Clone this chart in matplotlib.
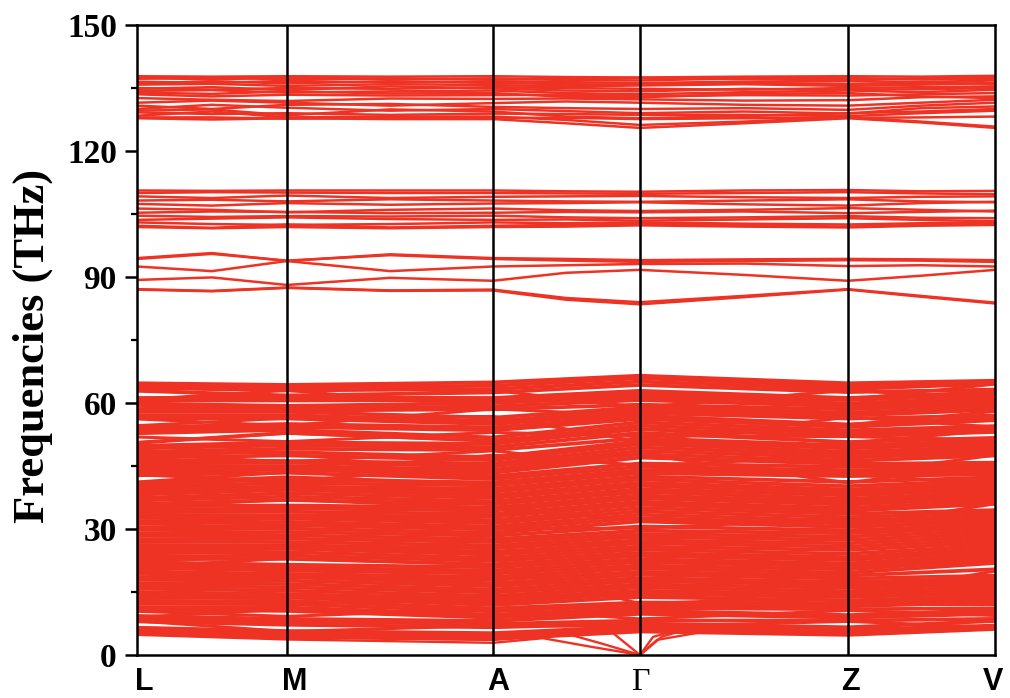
import matplotlib
matplotlib.use('Agg')
import matplotlib.pyplot as plt
import matplotlib.transforms as mtransforms
from matplotlib.ticker import MultipleLocator

# ---------------- data ----------------
kpath_labels = ['L', 'M', 'A', 'Γ', 'Z', 'V']
kpath_pos = [0.0, 1.50, 3.56, 5.03, 7.11, 8.58]
# high-symmetry points plus segment midpoints (for optical bands)
k_nodes = [0.0, 0.75, 1.50, 2.53, 3.56, 4.29, 5.03, 6.07, 7.11, 7.84, 8.58]

# highest optical group (~125-138 THz), values at k_nodes
top_bands = [
    [137.8, 137.7, 137.8, 137.7, 137.8, 137.6, 137.5, 137.7, 137.8, 137.7, 137.9],
    [137.5, 137.0, 137.6, 137.0, 137.3, 136.9, 136.8, 137.3, 137.4, 137.0, 137.2],
    [137.2, 137.4, 137.1, 137.3, 137.0, 137.2, 137.4, 137.1, 137.0, 137.3, 137.5],
    [136.5, 136.2, 136.7, 136.3, 136.6, 136.4, 136.2, 136.5, 136.7, 136.4, 136.8],
    [136.0, 136.6, 136.1, 136.6, 136.2, 135.9, 135.8, 136.2, 136.0, 136.2, 136.0],
    [135.8, 136.0, 135.5, 135.9, 135.7, 135.4, 135.6, 135.9, 135.5, 135.8, 136.2],
    [135.0, 134.6, 135.0, 134.8, 135.2, 135.0, 134.8, 134.6, 135.0, 135.2, 135.4],
    [134.8, 135.2, 134.5, 135.4, 134.9, 134.4, 134.2, 134.8, 134.6, 134.7, 135.0],
    [134.3, 134.5, 133.9, 134.2, 134.4, 133.8, 133.5, 134.0, 134.4, 134.0, 134.6],
    [133.9, 133.6, 134.2, 133.7, 133.8, 132.9, 132.8, 133.6, 133.8, 133.0, 132.6],
    [133.5, 133.0, 133.4, 133.2, 133.3, 133.4, 133.0, 133.3, 133.2, 133.5, 133.8],
    [132.6, 132.2, 131.9, 132.5, 132.4, 132.5, 132.3, 132.0, 132.1, 132.8, 133.0],
    [131.5, 132.0, 131.5, 130.8, 131.4, 131.8, 131.5, 131.0, 130.8, 131.5, 132.2],
    [130.8, 130.0, 131.0, 131.2, 130.5, 130.2, 130.0, 130.2, 129.8, 130.8, 131.5],
    [130.0, 131.0, 130.3, 129.6, 130.0, 129.5, 129.0, 129.4, 128.9, 130.2, 130.6],
    [129.6, 129.9, 128.5, 129.9, 129.4, 128.2, 127.8, 128.3, 129.0, 129.4, 130.0],
    [129.2, 128.8, 129.0, 128.6, 128.9, 128.8, 128.6, 128.6, 128.3, 129.0, 129.6],
    [128.4, 129.4, 128.0, 128.2, 128.2, 127.4, 126.2, 127.0, 128.0, 127.0, 125.8],
    [128.0, 128.0, 127.7, 128.0, 127.9, 127.9, 127.6, 127.8, 127.9, 128.0, 128.2],
    [127.8, 127.5, 127.8, 127.6, 127.6, 126.6, 125.5, 126.6, 127.8, 126.8, 125.5],
]

# optical group ~102-111 THz
mid_bands = [
    [110.6, 110.5, 110.6, 110.6, 110.6, 110.4, 110.3, 110.6, 110.7, 110.4, 110.5],
    [110.0, 110.2, 110.1, 110.0, 110.0, 109.9, 109.8, 110.0, 110.2, 109.9, 109.7],
    [109.2, 108.8, 109.4, 108.8, 109.1, 109.2, 109.3, 109.0, 108.8, 109.1, 109.2],
    [108.2, 108.4, 108.0, 108.5, 108.2, 108.0, 107.9, 108.2, 108.5, 108.0, 107.8],
    [107.4, 107.0, 107.6, 107.2, 107.5, 107.6, 107.8, 107.3, 107.0, 107.6, 107.9],
    [106.3, 106.0, 105.4, 106.0, 106.3, 105.9, 105.7, 106.0, 106.4, 106.0, 105.6],
    [105.3, 105.6, 105.5, 105.2, 105.3, 105.5, 105.4, 105.6, 105.2, 105.5, 105.8],
    [104.6, 104.3, 104.5, 104.4, 104.6, 104.2, 104.0, 104.2, 104.5, 104.1, 104.0],
    [103.6, 103.9, 104.2, 103.8, 103.6, 103.7, 103.4, 103.7, 104.0, 103.6, 103.3],
    [103.0, 102.6, 102.4, 102.6, 103.0, 102.8, 103.0, 102.7, 102.5, 102.8, 103.1],
    [102.2, 101.7, 102.5, 101.8, 102.2, 102.4, 102.6, 102.3, 102.0, 102.4, 102.7],
    [101.9, 101.6, 101.9, 101.6, 101.9, 102.0, 102.3, 102.0, 101.8, 102.2, 102.4],
]

# optical group ~83-96 THz
low_opt_bands = [
    [94.5, 95.7, 93.8, 95.4, 94.5, 94.3, 94.0, 94.2, 94.3, 94.2, 94.0],
    [94.3, 95.5, 93.9, 95.2, 94.3, 93.9, 93.6, 93.8, 94.0, 93.9, 93.6],
    [92.5, 91.4, 93.8, 91.4, 92.5, 92.8, 93.1, 93.2, 92.6, 92.8, 92.5],
    [89.3, 89.9, 88.1, 89.8, 89.1, 91.0, 91.7, 90.5, 89.1, 90.3, 91.7],
    [87.1, 86.7, 87.5, 86.8, 87.0, 85.0, 84.0, 85.5, 87.1, 85.5, 83.9],
    [87.0, 86.6, 87.4, 86.7, 86.8, 84.6, 83.5, 85.2, 87.0, 85.3, 83.7],
]

# dense low-frequency manifold, values at the six high-symmetry points
dense_L = [5.2, 5.9, 6.5, 8.0, 8.6, 9.3, 10.8, 11.4, 12.2, 12.8, 13.6, 14.4, 15.0, 15.8,
           16.5, 17.1, 17.9, 18.5, 19.3, 19.9, 20.7, 21.3, 22.1, 22.8, 23.4, 24.2, 24.8,
           25.6, 26.2, 27.0, 27.6, 28.4, 29.0, 29.8, 30.4, 31.2, 31.8, 32.6, 33.2, 34.0,
           34.6, 35.4, 36.0, 36.8, 37.4, 38.2, 38.8, 39.6, 40.2, 40.9, 42.8, 43.4, 44.2,
           44.9, 45.6, 46.4, 47.0, 47.8, 48.4, 49.2, 49.8, 50.5, 52.8, 53.5, 54.2, 56.4,
           57.1, 57.9, 58.5, 59.3, 59.9, 60.6, 61.2, 62.9, 63.6, 64.2, 64.7]
dense_M = [4.5, 5.1, 5.7, 7.2, 7.9, 8.6, 10.5, 11.3, 12.1, 12.9, 13.7, 14.1, 14.5, 15.3,
           16.1, 16.9, 17.7, 18.5, 18.9, 19.3, 20.1, 20.8, 21.5, 22.9, 23.7, 24.5, 25.3,
           25.7, 26.1, 26.9, 27.7, 28.5, 29.3, 30.1, 30.9, 31.7, 32.5, 32.9, 33.3, 34.1,
           34.9, 35.6, 36.9, 37.7, 38.5, 39.3, 39.7, 40.1, 40.9, 41.7, 43.4, 44.2, 44.6,
           45.0, 45.8, 46.2, 47.5, 48.3, 49.1, 49.9, 50.6, 52.9, 53.6, 54.3, 55.0, 56.3,
           57.1, 57.9, 58.2, 58.6, 59.3, 60.6, 61.3, 61.8, 63.0, 63.7, 64.3]
dense_A = [3.8, 4.5, 5.2, 6.6, 7.4, 8.1, 8.9, 9.6, 10.4, 11.1, 11.9, 12.6, 13.4, 14.1,
           14.9, 15.6, 16.4, 17.1, 17.9, 18.6, 19.4, 20.1, 20.9, 21.6, 22.4, 23.1, 23.9,
           24.6, 25.4, 26.1, 26.9, 27.6, 28.4, 29.1, 29.9, 30.6, 31.4, 32.1, 32.9, 33.6,
           34.4, 35.1, 35.9, 36.6, 37.4, 38.1, 38.9, 39.6, 40.4, 41.1, 41.9, 42.6, 43.4,
           44.1, 44.9, 45.6, 46.4, 47.1, 48.8, 49.5, 50.3, 51.0, 51.8, 53.5, 54.2, 55.0,
           55.7, 56.5, 58.5, 59.2, 60.0, 60.7, 61.2, 62.5, 63.3, 64.1, 64.9]
dense_G = [5.6, 6.2, 6.8, 7.5, 8.2, 9.8, 10.5, 11.2, 11.9, 12.5, 13.8, 14.6, 15.3, 16.1,
           16.8, 17.6, 18.3, 19.1, 19.8, 20.6, 21.3, 22.1, 22.8, 23.6, 24.3, 25.1, 25.8,
           26.6, 27.3, 28.1, 28.8, 29.6, 30.6, 31.8, 32.6, 33.4, 34.2, 35.0, 35.8, 36.5,
           37.3, 38.0, 38.8, 39.5, 40.3, 41.0, 41.8, 42.5, 43.3, 44.0, 44.8, 45.6, 47.0,
           47.8, 48.6, 49.4, 50.2, 50.9, 51.6, 52.9, 53.8, 54.6, 55.4, 56.2, 56.9, 57.6,
           58.3, 59.0, 59.6, 60.7, 61.5, 62.2, 62.9, 64.3, 65.1, 65.9, 66.5]
dense_Z = [4.8, 5.4, 6.0, 6.6, 8.2, 8.9, 9.5, 10.9, 11.6, 12.3, 13.0, 13.8, 14.5, 15.2,
           16.0, 16.7, 17.4, 18.2, 18.9, 19.6, 20.4, 21.1, 21.8, 22.6, 23.3, 24.1, 25.0,
           25.8, 26.6, 27.4, 28.2, 29.0, 29.7, 30.5, 31.3, 32.0, 32.8, 33.6, 34.3, 35.0,
           35.8, 36.5, 37.2, 38.0, 38.7, 39.4, 40.2, 41.2, 42.6, 43.3, 44.0, 44.8, 45.5,
           46.2, 47.0, 47.7, 48.4, 49.2, 49.9, 50.7, 52.1, 52.8, 53.5, 54.3, 54.9, 56.3,
           57.0, 57.7, 58.5, 59.2, 59.9, 60.7, 61.2, 62.6, 63.3, 64.0, 64.7]
dense_V = [6.2, 6.7, 7.0, 8.1, 8.6, 9.8, 10.4, 11.1, 12.6, 13.3, 14.0, 14.7, 15.4, 16.1,
           16.8, 17.5, 18.2, 18.9, 20.4, 21.9, 22.6, 23.3, 24.0, 24.7, 25.4, 26.1, 26.8,
           27.5, 28.2, 28.9, 29.6, 30.3, 31.0, 31.7, 32.4, 33.1, 33.8, 34.5, 36.0, 36.7,
           37.4, 38.1, 38.8, 39.5, 40.2, 40.9, 41.6, 42.3, 43.0, 43.7, 44.4, 45.1, 45.8,
           47.5, 48.2, 48.9, 49.6, 50.3, 51.0, 51.7, 53.1, 53.8, 54.5, 55.9, 56.6, 57.0,
           58.4, 59.1, 59.8, 60.5, 61.2, 61.9, 62.6, 63.2, 64.6, 65.0, 65.3]

# dispersive bands of the dense manifold that cross neighbouring modes (L, M, A, Γ, Z, V)
dense_cross = [
    [63.2, 61.2, 63.0, 59.0, 63.0, 61.0],
    [50.6, 52.8, 51.0, 53.8, 50.5, 53.5],
    [54.6, 56.4, 56.8, 50.8, 56.6, 54.3],
    [9.0, 10.9, 8.9, 10.6, 9.2, 11.0],
    [8.1, 5.6, 7.0, 6.8, 8.0, 6.6],
    [42.9, 41.4, 45.0, 47.8, 41.0, 45.6],
    [41.2, 43.5, 47.6, 45.2, 42.9, 47.6],
    [35.2, 37.0, 35.0, 32.2, 30.5, 36.0],
    [21.0, 23.0, 21.5, 12.2, 14.0, 20.0],
    [60.8, 63.0, 59.0, 61.0, 60.8, 64.5],
    [56.2, 54.6, 58.6, 57.0, 54.8, 58.0],
    [10.4, 9.2, 11.0, 8.6, 10.6, 9.4],
    [51.9, 50.8, 53.0, 52.2, 52.0, 51.2],
    [41.0, 42.4, 40.8, 44.0, 43.0, 40.8],
    [47.8, 46.0, 48.6, 45.0, 47.4, 48.0],
    [30.2, 31.0, 30.0, 30.2, 32.4, 30.6],
    [13.0, 12.4, 13.2, 14.4, 12.0, 12.0],
]

# acoustic branches (k, frequency)
ac1_k = [0.0, 1.50, 3.56, 4.06, 4.53, 5.03, 5.25, 5.46, 7.11, 8.58]
ac1_f = [4.8, 3.7, 2.9, 4.0, 2.0, 0.0, 4.4, 5.8, 4.8, 6.2]
ac2_k = [0.0, 1.50, 3.56, 4.26, 4.65, 5.03, 5.20, 5.66, 7.11, 8.58]
ac2_f = [5.0, 4.1, 3.6, 5.3, 2.7, 0.0, 3.6, 5.5, 5.0, 6.3]
ac3_k = [0.0, 1.50, 3.56, 4.73, 5.03, 5.16, 5.40, 7.11, 8.58]
ac3_f = [5.3, 4.4, 4.4, 5.8, 0.0, 4.3, 6.0, 5.2, 6.4]

# ---------------- plot ----------------
RED = '#EE3224'
fig = plt.figure(figsize=(10.1, 6.98), dpi=100)
ax = fig.add_axes([137 / 1010, 43 / 698, 858 / 1010, 630 / 698])

dense_cols = [dense_L, dense_M, dense_A, dense_G, dense_Z, dense_V]
for vals in zip(*dense_cols):
    ax.plot(kpath_pos, vals, color=RED, lw=2.7, zorder=2)
for band in dense_cross:
    ax.plot(kpath_pos, band, color=RED, lw=2.2, zorder=2)

for group in (top_bands, mid_bands, low_opt_bands):
    for band in group:
        ax.plot(k_nodes, band, color=RED, lw=1.8, zorder=2)

for kk, ff in ((ac1_k, ac1_f), (ac2_k, ac2_f), (ac3_k, ac3_f)):
    ax.plot(kk, ff, color=RED, lw=1.7, zorder=2)

for x in kpath_pos[1:-1]:
    ax.axvline(x, color='black', lw=1.8, zorder=4)

ax.set_xlim(kpath_pos[0], kpath_pos[-1])
ax.set_ylim(0, 150)
ax.yaxis.set_major_locator(MultipleLocator(30))
ax.yaxis.set_minor_locator(MultipleLocator(15))
for s in ax.spines.values():
    s.set_linewidth(1.8)
    s.set_zorder(5)

ax.tick_params(axis='y', which='major', direction='out', length=8.5, width=1.8, pad=6)
ax.tick_params(axis='y', which='minor', direction='out', length=4.5, width=1.6)
ax.tick_params(axis='x', which='both', length=0, pad=9)
for lab in ax.get_yticklabels():
    lab.set_fontfamily('Liberation Serif')
    lab.set_fontweight('bold')
    lab.set_fontsize(24)

ax.set_xticks(kpath_pos)
ax.set_xticklabels(kpath_labels)
label_shift_pt = [5.4, 5.8, 3.6, 0.0, 1.4, -1.4]
for lab, dx in zip(ax.get_xticklabels(), label_shift_pt):
    if lab.get_text() == 'Γ':
        lab.set_fontfamily('Liberation Serif')
        lab.set_fontweight('normal')
        lab.set_fontsize(23)
    else:
        lab.set_fontfamily('Liberation Sans')
        lab.set_fontweight('bold')
        lab.set_fontsize(22)
    lab.set_transform(lab.get_transform() +
                      mtransforms.ScaledTranslation(dx / 72, 0, fig.dpi_scale_trans))

ax.set_ylabel('Frequencies (THz)', fontfamily='Liberation Serif', fontweight='bold',
              fontsize=32)
ax.yaxis.set_label_coords((53 - 137) / 858, 0.49)

fig.savefig('out.png', dpi=100)
